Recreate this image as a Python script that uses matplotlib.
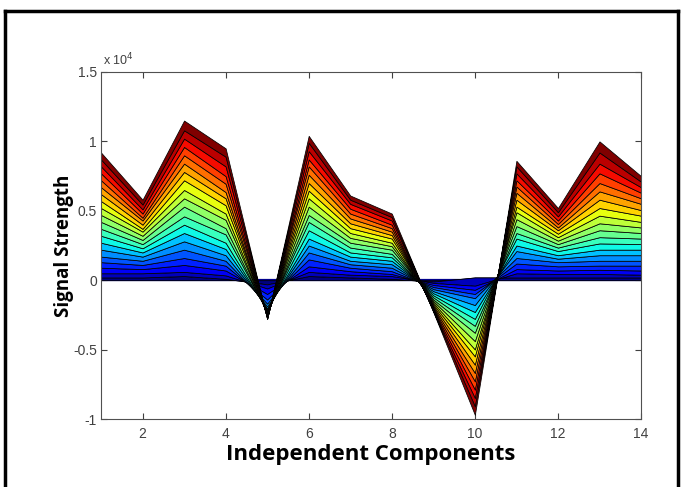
import numpy as np
import matplotlib.pyplot as plt
from matplotlib.lines import Line2D

# 20 stacked layers, in units of 10^4
# each list = cumulative level of the layers (bottom -> top) at one component
ic1 = [0.02, 0.05, 0.09, 0.13, 0.17, 0.22, 0.27, 0.32, 0.37, 0.42, 0.47, 0.52, 0.57, 0.62, 0.67, 0.72, 0.77, 0.82, 0.87, 0.92]
ic2 = [0.02, 0.05, 0.08, 0.11, 0.14, 0.17, 0.20, 0.23, 0.26, 0.29, 0.32, 0.35, 0.37, 0.40, 0.43, 0.45, 0.48, 0.51, 0.545, 0.58]
ic3 = [0.03, 0.06, 0.11, 0.16, 0.22, 0.28, 0.34, 0.40, 0.46, 0.53, 0.59, 0.65, 0.72, 0.78, 0.84, 0.90, 0.96, 1.02, 1.08, 1.15]
ic4 = [0.01, 0.035, 0.07, 0.105, 0.14, 0.18, 0.225, 0.27, 0.33, 0.375, 0.435, 0.48, 0.54, 0.59, 0.635, 0.695, 0.75, 0.82, 0.89, 0.95]
ic5 = [-0.03, -0.06, -0.10, -0.14, -0.17, -0.19, -0.205, -0.215, -0.225, -0.233, -0.24, -0.246, -0.252, -0.257, -0.262, -0.266, -0.27, -0.274, -0.277, -0.28]
ic6 = [0.03, 0.06, 0.10, 0.15, 0.20, 0.25, 0.30, 0.36, 0.42, 0.47, 0.53, 0.59, 0.645, 0.70, 0.76, 0.82, 0.87, 0.93, 0.99, 1.04]
ic7 = [0.02, 0.04, 0.065, 0.09, 0.115, 0.14, 0.17, 0.20, 0.235, 0.27, 0.305, 0.34, 0.375, 0.41, 0.445, 0.48, 0.515, 0.55, 0.58, 0.61]
ic8 = [0.01, 0.03, 0.045, 0.065, 0.09, 0.115, 0.14, 0.165, 0.19, 0.22, 0.245, 0.27, 0.30, 0.325, 0.35, 0.375, 0.40, 0.43, 0.455, 0.48]
ic9 = [-0.01, -0.02, -0.035, -0.05, -0.065, -0.08, -0.095, -0.11, -0.125, -0.14, -0.152, -0.164, -0.176, -0.187, -0.197, -0.206, -0.214, -0.221, -0.226, -0.23]
ic10 = [0.02, -0.04, -0.07, -0.10, -0.13, -0.18, -0.23, -0.28, -0.33, -0.38, -0.44, -0.50, -0.55, -0.61, -0.67, -0.73, -0.79, -0.85, -0.91, -0.97]
ic11 = [0.02, 0.05, 0.08, 0.12, 0.16, 0.21, 0.25, 0.30, 0.34, 0.39, 0.44, 0.49, 0.53, 0.58, 0.63, 0.675, 0.72, 0.77, 0.82, 0.86]
ic12 = [0.02, 0.045, 0.07, 0.10, 0.13, 0.155, 0.18, 0.21, 0.235, 0.26, 0.285, 0.31, 0.335, 0.36, 0.38, 0.405, 0.43, 0.46, 0.49, 0.52]
ic13 = [0.02, 0.045, 0.075, 0.105, 0.14, 0.18, 0.22, 0.265, 0.31, 0.36, 0.41, 0.465, 0.52, 0.58, 0.64, 0.70, 0.77, 0.84, 0.92, 1.0]
ic14 = [0.02, 0.04, 0.07, 0.105, 0.14, 0.18, 0.22, 0.26, 0.30, 0.34, 0.38, 0.42, 0.465, 0.505, 0.55, 0.59, 0.63, 0.67, 0.71, 0.75]

components = np.arange(1, 15)
xticks = [2, 4, 6, 8, 10, 12, 14]
yticks = [-1, -0.5, 0, 0.5, 1, 1.5]

levels = np.array([ic1, ic2, ic3, ic4, ic5, ic6, ic7, ic8, ic9, ic10,
                   ic11, ic12, ic13, ic14]).T
layers = np.diff(levels, axis=0, prepend=0)  # like the Y matrix of matlab area()
colors = plt.cm.jet(np.linspace(0, 1, layers.shape[0]))

fig = plt.figure(figsize=(6.81, 4.87), dpi=100)
ax = fig.add_axes([0.1483, 0.1396, 0.793, 0.7126])

ax.axhline(0, color=(0, 0, 0.55), lw=1.6, zorder=1)
ax.stackplot(components, layers, colors=colors, edgecolor='k', linewidth=0.55, zorder=2)

ax.set_xlim(1, 14)
ax.set_ylim(-1, 1.5)
ax.set_xticks(xticks)
ax.set_yticks(yticks)
ax.set_yticklabels(['%g' % v for v in yticks])
ax.tick_params(direction='in', top=True, right=True, length=4, width=0.8,
               labelsize=10, labelcolor='#404040', color='#404040')
ax.tick_params(axis='x', pad=6)
ax.tick_params(axis='y', pad=3)
for s in ax.spines.values():
    s.set_color('#505050')
    s.set_linewidth(0.8)
for lab in ax.get_xticklabels() + ax.get_yticklabels():
    lab.set_family('Liberation Sans')

ax.text(0.004, 1.012, r'x 10$^{4}$', transform=ax.transAxes, fontsize=9,
        color='#404040', family='Liberation Sans', va='bottom', ha='left')

ax.set_xlabel('Independent Components', fontsize=16, fontweight='bold',
              family='Open Sans', labelpad=2)
ax.set_ylabel('Signal Strength', fontsize=13.5, fontweight='bold',
              family='Open Sans', labelpad=-1)

# black frame round the picture
for xs, ys in [([0.008, 0.008], [0, 0.977]), ([0.008, 0.996], [0.977, 0.977]),
               ([0.996, 0.996], [0, 0.977])]:
    fig.add_artist(Line2D(xs, ys, transform=fig.transFigure, color='k', lw=2.5))

fig.savefig('out.png', dpi=100)
